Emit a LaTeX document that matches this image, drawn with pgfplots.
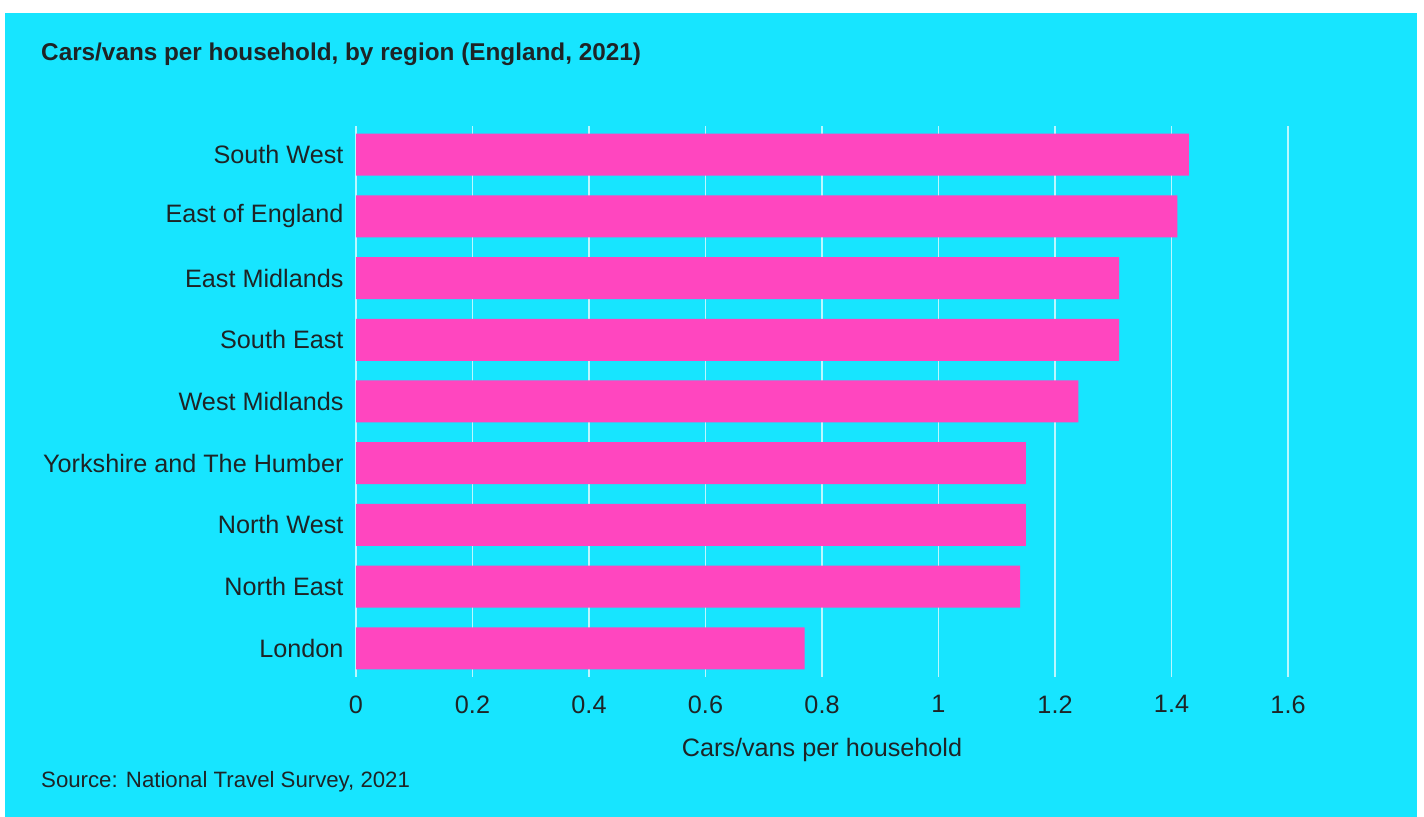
\documentclass[border=0pt]{standalone}
\usepackage{fontspec}
\setmainfont{Liberation Sans}
\usepackage{pgfplots}
\pgfplotsset{compat=1.18}
\definecolor{bgcyan}{HTML}{17E5FF}
\definecolor{barpink}{HTML}{FF46BF}
\definecolor{ink}{HTML}{1E2426}

\begin{document}
\begin{tikzpicture}
\useasboundingbox (0,0) rectangle (1424bp,817bp);
\fill[white] (0,0) rectangle (1424bp,817bp);
\fill[bgcyan] (5bp,0) rectangle (1417bp,804bp);
\node[anchor=west, font=\fontsize{24.4}{28}\selectfont\bfseries, text=ink, inner sep=0]
  at (41bp,763bp) {Cars/vans per household, by region (England, 2021)};
\node[anchor=west, font=\fontsize{22.3}{27}\selectfont, text=ink, inner sep=0]
  at (41bp,35bp) {Source: National Travel Survey, 2021};
\begin{axis}[
  at={(356bp,140bp)}, anchor=south west,
  scale only axis, width=932bp, height=551bp,
  xbar, bar width=42bp,
  xmin=0, xmax=1.6, ymin=-0.465, ymax=8.465,
  ytick={0,...,8},
  yticklabels={London,North East,North West,Yorkshire and The Humber,West Midlands,South East,East Midlands,East of England,South West},
  xtick={0,0.2,0.4,0.6,0.8,1,1.2,1.4,1.6},
  xticklabels={0,0.2,0.4,0.6,0.8,1,1.2,1.4,1.6},
  /pgf/number format/assume math mode=true,
  axis line style={draw=none}, major tick length=0pt,
  xmajorgrids, grid style={white, opacity=0.7, line width=1.5bp},
  tick label style={font=\fontsize{25.3}{30}\selectfont, text=ink},
  yticklabel style={xshift=-9bp},
  xticklabel style={yshift=-15bp},
  xlabel={Cars/vans per household},
  xlabel style={font=\fontsize{25.3}{30}\selectfont, text=ink, yshift=-18bp},
]
\addplot[fill=barpink, draw=none] coordinates {
  (0.77,0) (1.14,1) (1.15,2) (1.15,3) (1.24,4)
  (1.31,5) (1.31,6) (1.41,7) (1.43,8)};
\end{axis}
\end{tikzpicture}
\end{document}
